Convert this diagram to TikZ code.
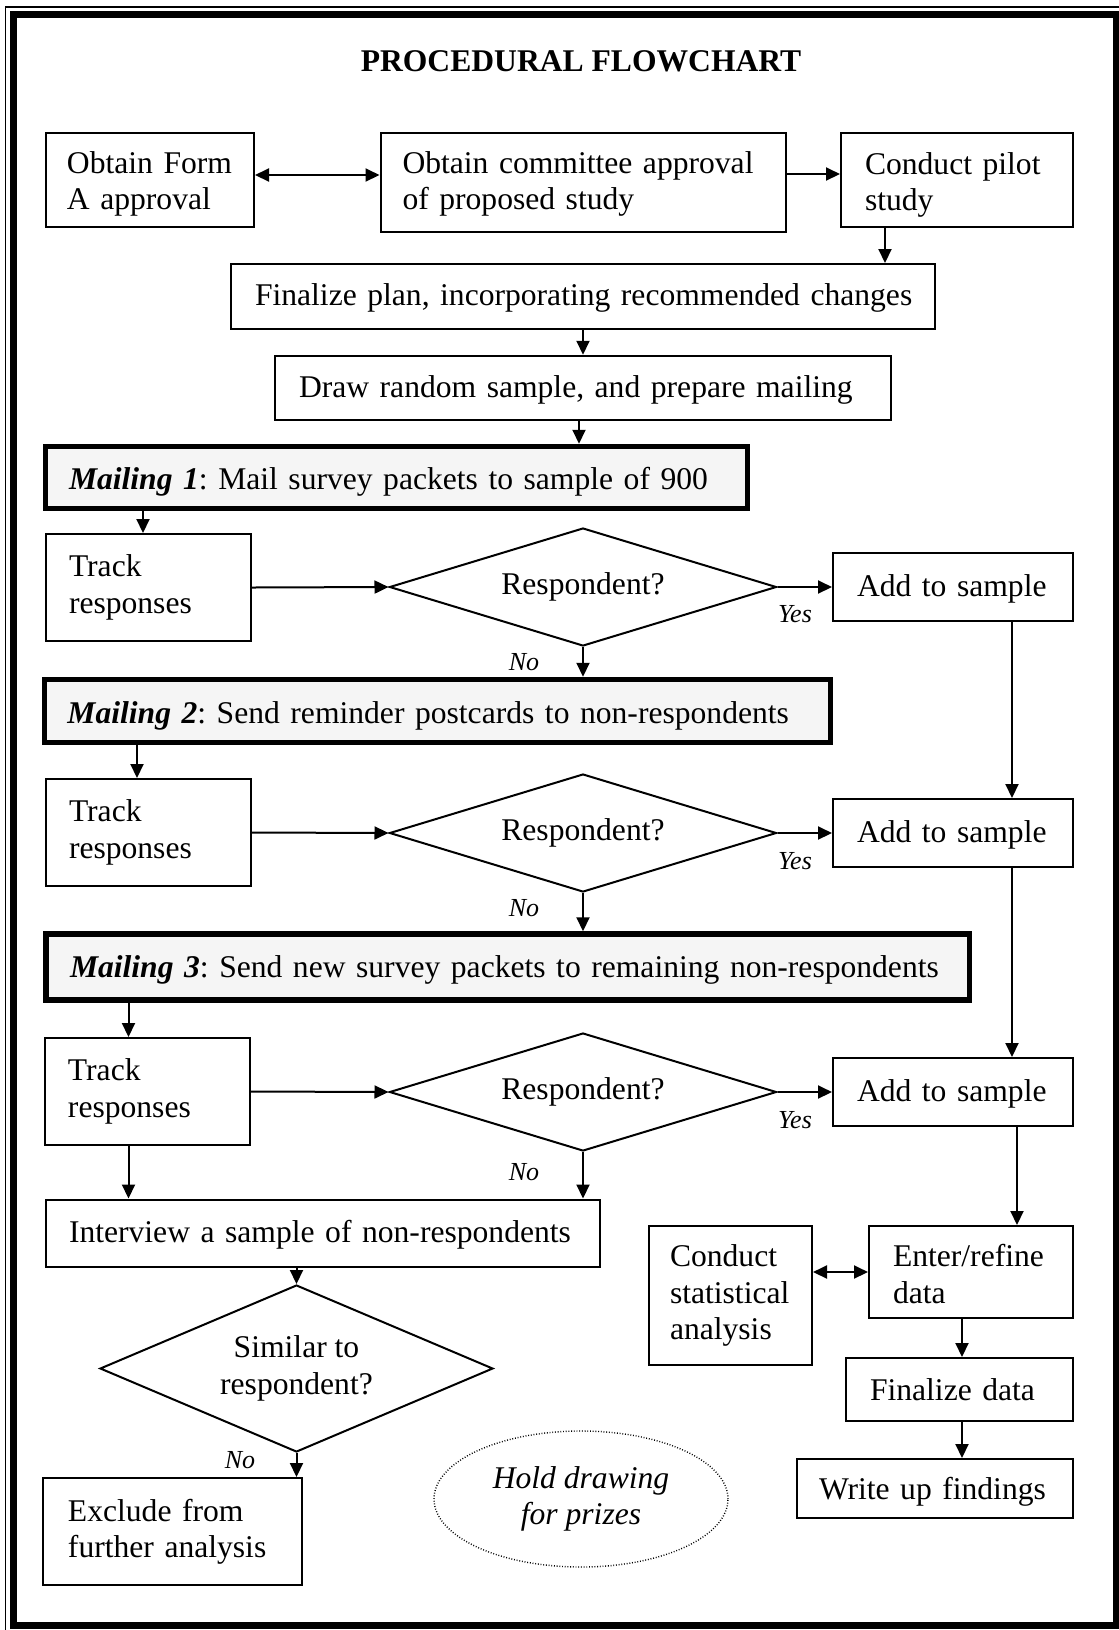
\documentclass[tikz,border=0pt]{standalone}
\usepackage{fontspec}
\setmainfont{Liberation Serif}
\usetikzlibrary{shapes.geometric,arrows.meta}
\begin{document}
\begin{tikzpicture}[x=0.5pt,y=-0.5pt,
  >={Triangle[length=7pt,width=6.5pt]},
  txt/.style={font=\fontsize{15.8}{18.2}\selectfont, execute at begin node={\frenchspacing\hyphenpenalty=10000\exhyphenpenalty=10000\relax}},
  dn/.style={execute at begin node={\rule{0pt}{#1}}},
  bx/.style={txt, draw, line width=1pt, rectangle, align=left, inner ysep=0pt},
  mail/.style={txt, draw, line width=2.75pt, fill=black!4, rectangle, align=left, inner ysep=0pt},
  dia/.style={txt, draw, line width=1pt, diamond, inner sep=0pt, align=center},
  arr/.style={line width=1pt, ->},
  lab/.style={font=\fontsize{13}{15}\selectfont\itshape, inner sep=0pt, anchor=base}
]
\useasboundingbox (0,0) rectangle (1119,1630);
\clip (0,0) rectangle (1119,1630);
% frame
\draw[line width=0.75pt] (5.5,7) rectangle (1135,1645);
\draw[line width=3.5pt] (13,14) rectangle (1116,1625.5);

% title
\node[font=\fontsize{15.8}{18.2}\selectfont\bfseries, anchor=base, inner sep=0pt] (title) at (581,71) {PROCEDURAL FLOWCHART};

% top row
\node[bx, dn=15.1pt, minimum width=104pt, minimum height=47pt, inner xsep=10.5pt, text width=83pt] (formA) at (150,180) {Obtain Form\\A approval};
\node[bx, dn=13pt, minimum width=202.5pt, minimum height=49.5pt, inner xsep=11pt, text width=180.5pt] (comm) at (583,182) {Obtain committee approval\\of proposed study};
\node[bx, dn=16pt, minimum width=116pt, minimum height=47pt, inner xsep=12pt, text width=92pt] (pilot) at (957,180) {Conduct pilot\\study};
\node[bx, dn=12pt, minimum width=352pt, minimum height=32.5pt, inner xsep=12pt, text width=328pt] (plan) at (583,296.5) {\mbox{Finalize plan, incorporating recommended changes}};
\node[bx, dn=13pt, minimum width=308pt, minimum height=32.25pt, inner xsep=12pt, text width=284pt] (draw) at (583,388) {\mbox{Draw random sample, and prepare mailing}};

% mailing 1 block
\node[mail, dn=15pt, minimum width=351pt, minimum height=31pt, inner xsep=11.75pt, text width=327.5pt] (mail1) at (396.5,477.5) {\mbox{\textbf{\textit{Mailing 1}}: Mail survey packets to sample of 900}};
\node[bx, minimum width=102.5pt, minimum height=53.5pt, inner xsep=11.5pt, text width=79.5pt] (track1) at (148.5,587.5) {Track\\responses};
\node[dia, minimum width=193.5pt, minimum height=59pt, aspect=3.28] (d1) at (583,587) {Respondent?};
\node[bx, dn=13pt, minimum width=120pt, minimum height=34pt, inner xsep=12pt, text width=96pt] (add1) at (953,587) {\mbox{Add to sample}};

% mailing 2 block
\node[mail, dn=16pt, minimum width=393pt, minimum height=31.5pt, inner xsep=11.5pt, text width=370pt] (mail2) at (437.5,711) {\mbox{\textbf{\textit{Mailing 2}}: Send reminder postcards to non-respondents}};
\node[bx, minimum width=102.5pt, minimum height=53.5pt, inner xsep=11.5pt, text width=79.5pt] (track2) at (148.5,832.5) {Track\\responses};
\node[dia, minimum width=193.5pt, minimum height=59pt, aspect=3.28] (d2) at (583,833) {Respondent?};
\node[bx, dn=13pt, minimum width=120pt, minimum height=34pt, inner xsep=12pt, text width=96pt] (add2) at (953,833) {\mbox{Add to sample}};

% mailing 3 block
\node[mail, dn=14pt, minimum width=461.75pt, minimum height=33pt, inner xsep=12pt, text width=437.75pt] (mail3) at (507.75,967) {\mbox{\textbf{\textit{Mailing 3}}: Send new survey packets to remaining non-respondents}};
\node[bx, minimum width=102.5pt, minimum height=53.5pt, inner xsep=11.5pt, text width=79.5pt] (track3) at (147.5,1091.5) {Track\\responses};
\node[dia, minimum width=193.5pt, minimum height=59pt, aspect=3.28] (d3) at (583,1092) {Respondent?};
\node[bx, dn=13pt, minimum width=120pt, minimum height=34pt, inner xsep=12pt, text width=96pt] (add3) at (953,1092) {\mbox{Add to sample}};

% lower left
\node[bx, dn=13pt, minimum width=277pt, minimum height=33.5pt, inner xsep=11.5pt, text width=254pt] (interview) at (323,1233) {\mbox{Interview a sample of non-respondents}};
\node[dia, dn=14pt, minimum width=196.5pt, minimum height=83.5pt, aspect=2.35] (similar) at (296.5,1368.5) {Similar to\\respondent?};
\node[bx, minimum width=129.5pt, minimum height=53.5pt, inner xsep=12.5pt, text width=104.5pt] (exclude) at (172.5,1531.5) {Exclude from\\further analysis};
\node[font=\fontsize{15.8}{18.2}\selectfont\itshape, draw, ellipse, line width=0.7pt, dash pattern=on 0.45pt off 0.9pt, minimum width=147pt, minimum height=68pt, inner sep=0pt, align=center] (hold) at (581,1499) {Hold drawing\\for prizes};

% lower right
\node[bx, minimum width=81.5pt, minimum height=69.5pt, inner xsep=10.5pt, text width=60.5pt] (stat) at (730.5,1295.5) {\mbox{Conduct}\\\mbox{statistical}\\\mbox{analysis}};
\node[bx, dn=13pt, minimum width=102pt, minimum height=46pt, inner xsep=12pt, text width=78pt] (enter) at (971,1272) {\mbox{Enter/refine}\\data};
\node[bx, minimum width=113.5pt, minimum height=31.5pt, inner xsep=12pt, text width=89.5pt] (findata) at (959.5,1389.5) {\mbox{Finalize data}};
\node[bx, dn=14pt, minimum width=138pt, minimum height=29.5pt, inner xsep=11pt, text width=116pt] (writeup) at (935,1488.5) {\mbox{Write up findings}};

% labels
\node[lab] (yes1) at (795,622) {Yes};
\node[lab] (no1) at (524,670) {No};
\node[lab] (yes2) at (795,869) {Yes};
\node[lab] (no2) at (524,916) {No};
\node[lab] (yes3) at (795,1128) {Yes};
\node[lab] (no3) at (524,1180) {No};
\node[lab] (no4) at (240,1468) {No};

% connectors
\draw[arr,<->] ([yshift=2.5pt]formA.east) -- ([yshift=2.5pt]formA.east -| comm.west);
\draw[arr] ([yshift=4pt]comm.east) -- ([yshift=4pt]comm.east -| pilot.west);
\draw[arr] ([xshift=-36pt]pilot.south) -- ([xshift=-36pt]pilot.south |- plan.north);
\draw[arr] (plan.south) -- (draw.north);
\draw[arr] ([xshift=-2pt]draw.south) -- ([xshift=-2pt]draw.south |- mail1.north);
\draw[arr] ([xshift=-2.75pt]track1.north |- mail1.south) -- ([xshift=-2.75pt]track1.north);
\draw[arr] (track1.east) -- (d1.west);
\draw[arr] (d1.east) -- (add1.west);
\draw[arr] (d1.south) -- (d1.south |- mail2.north);
\draw[arr] ([xshift=29.5pt]add1.south) -- ([xshift=29.5pt]add1.south |- add2.north);
\draw[arr] ([xshift=-5.75pt]track2.north |- mail2.south) -- ([xshift=-5.75pt]track2.north);
\draw[arr] (track2.east) -- (d2.west);
\draw[arr] (d2.east) -- (add2.west);
\draw[arr] (d2.south) -- (d2.south |- mail3.north);
\draw[arr] ([xshift=29.5pt]add2.south) -- ([xshift=29.5pt]add2.south |- add3.north);
\draw[arr] ([xshift=-9.5pt]track3.north |- mail3.south) -- ([xshift=-9.5pt]track3.north);
\draw[arr] (track3.east) -- (d3.west);
\draw[arr] (d3.east) -- (add3.west);
\draw[arr] (d3.south) -- (d3.south |- interview.north);
\draw[arr] ([xshift=-9.5pt]track3.south) -- ([xshift=-9.5pt]track3.south |- interview.north);
\draw[arr] ([xshift=32pt]add3.south) -- ([xshift=32pt]add3.south |- enter.north);
\draw[arr,<->] (enter.west -| stat.east) -- (enter.west);
\draw[arr] ([xshift=-4.5pt]enter.south) -- ([xshift=-4.5pt]enter.south |- findata.north);
\draw[arr] ([xshift=1.25pt]findata.south) -- ([xshift=1.25pt]findata.south |- writeup.north);
\draw[arr] (similar.north |- interview.south) -- (similar.north);
\draw[arr] (similar.south) -- (similar.south |- exclude.north);
\end{tikzpicture}
\end{document}
